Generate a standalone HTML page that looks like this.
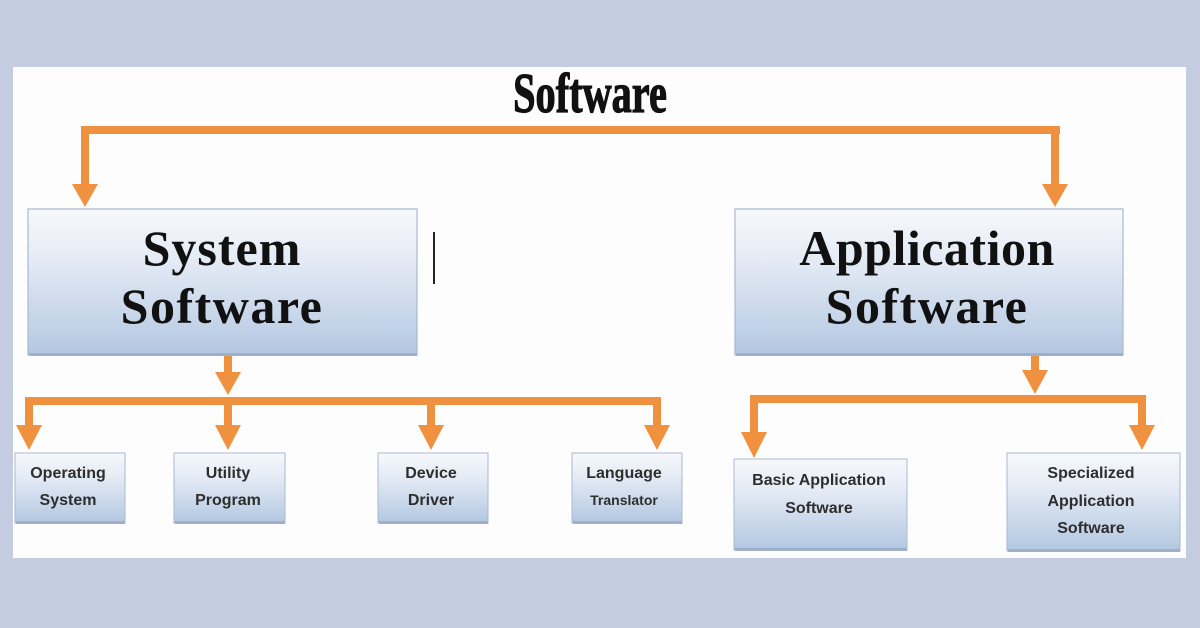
<!DOCTYPE html>
<html>
<head>
<meta charset="utf-8">
<style>
html,body{margin:0;padding:0;}
body{width:1200px;height:628px;background:#c3cce0;overflow:hidden;position:relative;font-family:"Liberation Sans",sans-serif;}
svg{position:absolute;left:0;top:0;}
</style>
</head>
<body>
<svg width="1200" height="628" viewBox="0 0 1200 628" xmlns="http://www.w3.org/2000/svg">
  <defs>
    <linearGradient id="g" x1="0" y1="0" x2="0" y2="1">
      <stop offset="0" stop-color="#f7f9fc"/>
      <stop offset="0.35" stop-color="#e4ebf5"/>
      <stop offset="1" stop-color="#b3c7e1"/>
    </linearGradient>
  </defs>
  <!-- panel -->
  <rect x="13" y="67" width="1173" height="491" fill="#fdfdfd"/>

  <!-- title -->
  <text x="590" y="112" text-anchor="middle" font-family="Liberation Serif" font-weight="bold" font-size="56" fill="#111" stroke="#111" stroke-width="1.2" transform="translate(590 0) scale(0.72 1) translate(-590 0)">Software</text>

  <!-- top connector -->
  <g fill="#f0913f" stroke="none">
    <rect x="81" y="126" width="979" height="8"/>
    <rect x="81" y="126" width="8" height="62"/>
    <polygon points="72,184 98,184 85,207"/>
    <rect x="1051" y="126" width="8" height="62"/>
    <polygon points="1042,184 1068,184 1055,207"/>

    <!-- system branch -->
    <rect x="224" y="355" width="8" height="20"/>
    <polygon points="215,372 241,372 228,395"/>
    <rect x="25" y="397" width="636" height="8"/>
    <rect x="25" y="397" width="8" height="30"/>
    <polygon points="16,425 42,425 29,450"/>
    <rect x="224" y="397" width="8" height="30"/>
    <polygon points="215,425 241,425 228,450"/>
    <rect x="427" y="397" width="8" height="30"/>
    <polygon points="418,425 444,425 431,450"/>
    <rect x="653" y="397" width="8" height="30"/>
    <polygon points="644,425 670,425 657,450"/>

    <!-- application branch -->
    <rect x="1031" y="355" width="8" height="18"/>
    <polygon points="1022,370 1048,370 1035,394"/>
    <rect x="750" y="395" width="396" height="8"/>
    <rect x="750" y="395" width="8" height="38"/>
    <polygon points="741,432 767,432 754,458"/>
    <rect x="1138" y="395" width="8" height="30"/>
    <polygon points="1129,425 1155,425 1142,450"/>
  </g>

  <!-- big boxes -->
  <g stroke="#a8b9d1" stroke-width="1.2">
    <rect x="28" y="209" width="389" height="146" fill="url(#g)"/>
    <rect x="735" y="209" width="388" height="146" fill="url(#g)"/>
  </g>
  <rect x="29" y="353" width="388" height="3" fill="#9fb0c8"/>
  <rect x="736" y="353" width="387" height="3" fill="#9fb0c8"/>

  <g font-family="Liberation Serif" font-weight="bold" font-size="50" fill="#111" text-anchor="middle">
    <text x="222" y="265" letter-spacing="1">System</text>
    <text x="222" y="323" letter-spacing="1.5">Software</text>
    <text x="927" y="265" letter-spacing="0.5">Application</text>
    <text x="927" y="323" letter-spacing="1.5">Software</text>
  </g>

  <!-- cursor -->
  <rect x="433" y="232" width="2" height="52" fill="#222"/>

  <!-- small boxes -->
  <g stroke="#a8b9d1" stroke-width="1">
    <rect x="15" y="453" width="110" height="70" fill="url(#g)"/>
    <rect x="174" y="453" width="111" height="70" fill="url(#g)"/>
    <rect x="378" y="453" width="110" height="70" fill="url(#g)"/>
    <rect x="572" y="453" width="110" height="70" fill="url(#g)"/>
    <rect x="734" y="459" width="173" height="91" fill="url(#g)"/>
    <rect x="1007" y="453" width="173" height="98" fill="url(#g)"/>
  </g>
  <g fill="#9fb0c8">
    <rect x="16" y="521" width="109" height="3"/>
    <rect x="175" y="521" width="110" height="3"/>
    <rect x="379" y="521" width="109" height="3"/>
    <rect x="573" y="521" width="109" height="3"/>
    <rect x="735" y="548" width="172" height="3"/>
    <rect x="1008" y="549" width="172" height="3"/>
  </g>

  <g font-family="Liberation Sans" font-weight="bold" font-size="16" fill="#2e2e2e" text-anchor="middle">
    <text x="68" y="478">Operating</text>
    <text x="68" y="505">System</text>
    <text x="228" y="478">Utility</text>
    <text x="228" y="505">Program</text>
    <text x="431" y="478">Device</text>
    <text x="431" y="505">Driver</text>
    <text x="624" y="478">Language</text>
    <text x="624" y="505" font-size="14">Translator</text>
    <text x="819" y="485">Basic Application</text>
    <text x="819" y="513">Software</text>
    <text x="1091" y="478">Specialized</text>
    <text x="1091" y="506">Application</text>
    <text x="1091" y="533">Software</text>
  </g>
</svg>
</body>
</html>
